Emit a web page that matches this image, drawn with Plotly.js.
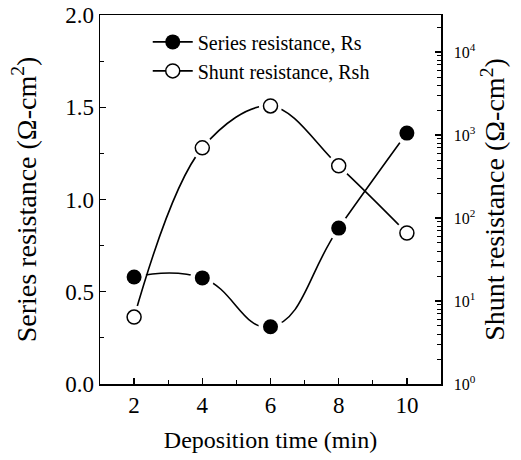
<!DOCTYPE html>
<html>
<head>
<meta charset="utf-8">
<script src="https://cdn.plot.ly/plotly-3.0.1.min.js"></script>
<style>html,body{margin:0;padding:0;background:#fff;}#chart{width:521px;height:460px;}</style>
</head>
<body>
<div id="chart"></div>
<script>
var depositionTime = [2, 4, 6, 8, 10];
var seriesResistance = [0.58, 0.575, 0.31, 0.845, 1.36];
var shuntResistance = [6.4, 700, 2240, 425, 66];
var rightTickVals = [1, 10, 100, 1000, 10000];
var rightTickText = ['10<sup>0</sup>', '10<sup>1</sup>', '10<sup>2</sup>', '10<sup>3</sup>', '10<sup>4</sup>'];
var seriesName = 'Series resistance, Rs';
var shuntName = 'Shunt resistance, Rsh';

var FONT = 'Liberation Serif, Times New Roman, serif';
var data = [
  {x: depositionTime, y: seriesResistance, name: seriesName, mode: 'lines+markers', yaxis: 'y',
   line: {color: 'black', width: 1.6, shape: 'spline', smoothing: 1.3},
   marker: {symbol: 'circle', size: 15, color: 'black'}},
  {x: depositionTime, y: seriesResistance, mode: 'markers', yaxis: 'y', showlegend: false, hoverinfo: 'skip',
   marker: {symbol: 'circle', size: 24, color: 'white'}},
  {x: depositionTime, y: seriesResistance, mode: 'markers', yaxis: 'y', showlegend: false,
   marker: {symbol: 'circle', size: 15, color: 'black'}},
  {x: depositionTime, y: shuntResistance, name: shuntName, mode: 'lines+markers', yaxis: 'y2',
   line: {color: 'black', width: 1.6, shape: 'spline', smoothing: 1},
   marker: {symbol: 'circle', size: 14, color: 'white', line: {color: 'black', width: 1.5}}},
  {x: depositionTime, y: shuntResistance, mode: 'markers', yaxis: 'y2', showlegend: false, hoverinfo: 'skip',
   marker: {symbol: 'circle', size: 23, color: 'white'}},
  {x: depositionTime, y: shuntResistance, mode: 'markers', yaxis: 'y2', showlegend: false,
   marker: {symbol: 'circle', size: 14, color: 'white', line: {color: 'black', width: 1.5}}}
];

var layout = {
  width: 521, height: 460,
  margin: {l: 100, r: 80, t: 15, b: 76, pad: 0},
  paper_bgcolor: 'white', plot_bgcolor: 'white',
  font: {family: FONT, color: 'black', size: 22},
  showlegend: true,
  legend: {x: 0.14, y: 0.98, xanchor: 'left', yanchor: 'top', bgcolor: 'rgba(0,0,0,0)',
           font: {family: FONT, size: 20, color: 'black'}, tracegroupgap: 0, itemwidth: 40},
  xaxis: {
    range: [1, 11], tickmode: 'linear', tick0: 0, dtick: 2,
    ticks: 'inside', ticklen: 6, tickwidth: 1.3, tickcolor: 'black',
    minor: {dtick: 1, tick0: 0, ticks: 'inside', ticklen: 4, tickcolor: 'black', tickwidth: 1},
    showline: true, linecolor: 'black', linewidth: 1.5, mirror: true,
    showgrid: false, zeroline: false,
    tickfont: {family: FONT, size: 23, color: 'black'},
    title: {text: 'Deposition time (min)', font: {family: FONT, size: 24, color: 'black'}, standoff: 14}
  },
  yaxis: {
    range: [0, 2], tickmode: 'linear', tick0: 0, dtick: 0.5, tickformat: '.1f',
    ticks: 'inside', ticklen: 6, tickwidth: 1.3, tickcolor: 'black',
    minor: {dtick: 0.25, ticks: 'inside', ticklen: 4, tickcolor: 'black', tickwidth: 1},
    showline: true, linecolor: 'black', linewidth: 1.5,
    showgrid: false, zeroline: false,
    tickfont: {family: FONT, size: 23, color: 'black'},
    title: {text: 'Series resistance (Ω-cm<sup>2</sup>)', font: {family: FONT, size: 28, color: 'black'}, standoff: 20}
  },
  yaxis2: {
    type: 'log', range: [0, 4.446], overlaying: 'y', side: 'right',
    tickmode: 'array', tickvals: rightTickVals, ticktext: rightTickText,
    ticks: 'inside', ticklen: 6, tickwidth: 1.3, tickcolor: 'black', ticklabelstandoff: 8,
    minor: {dtick: 'D1', ticks: 'inside', ticklen: 4, tickcolor: 'black', tickwidth: 1},
    showline: true, linecolor: 'black', linewidth: 1.5,
    showgrid: false, zeroline: false,
    tickfont: {family: FONT, size: 16, color: 'black'},
    title: {text: 'Shunt resistance (Ω-cm<sup>2</sup>)', font: {family: FONT, size: 28, color: 'black'}, standoff: 8}
  }
};

Plotly.newPlot('chart', data, layout, {displayModeBar: false, staticPlot: true});
</script>
</body>
</html>
